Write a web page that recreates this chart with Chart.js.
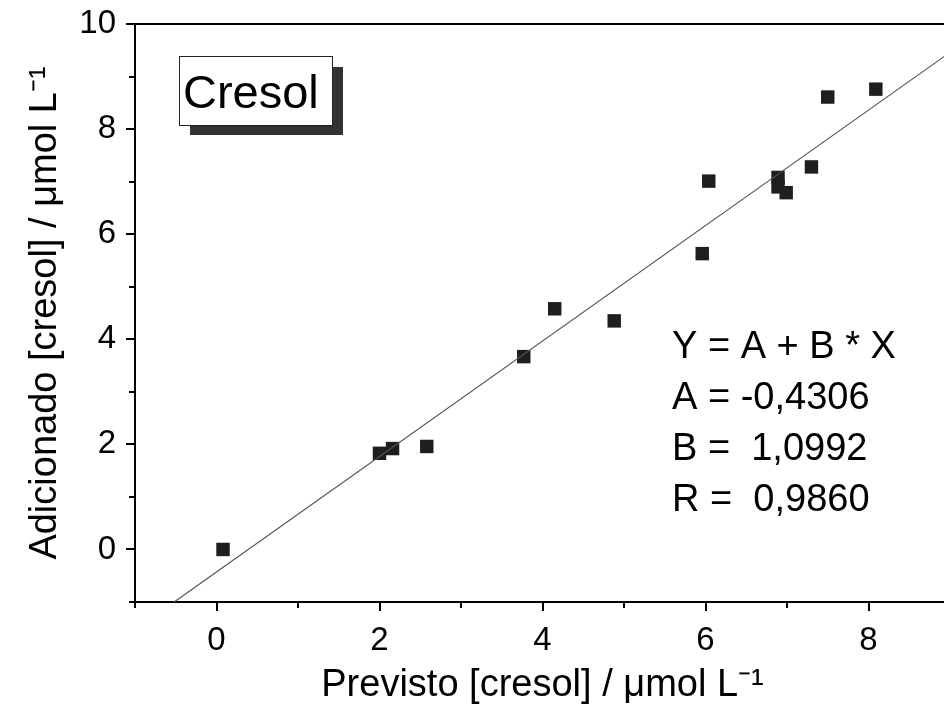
<!DOCTYPE html>
<html>
<head>
<meta charset="utf-8">
<script src="https://cdn.jsdelivr.net/npm/chart.js@4.4.0/dist/chart.umd.min.js"></script>
<style>
  html, body { margin: 0; padding: 0; background: #fff; overflow: hidden; }
  #wrap { width: 960px; height: 710px; }
</style>
</head>
<body>
<div id="wrap"><canvas id="chart" width="960" height="710"></canvas></div>
<script>
// Data
const previsto = [0.08, 2.0, 2.16, 2.58, 3.77, 4.15, 4.88, 5.96, 6.04, 6.89, 6.89, 6.99, 7.3, 7.5, 8.09];
const adicionado = [0.0, 1.83, 1.92, 1.96, 3.67, 4.58, 4.35, 5.63, 7.01, 7.08, 6.9, 6.79, 7.28, 8.61, 8.76];

// Fitted line ends (as drawn)
const fitX = [-0.52, 9];
const fitY = [-1.0, 9.46];

// Axis ticks
const xMajor = [0, 2, 4, 6, 8];
const xMinor = [-1, 1, 3, 5, 7, 9];
const yMajor = [0, 2, 4, 6, 8, 10];
const yMinor = [-1, 1, 3, 5, 7, 9];

const fitText = ['Y = A + B * X', 'A = -0,4306', 'B =  1,0992', 'R =  0,9860'];
const FONT = '"Liberation Sans", Arial, sans-serif';

// Custom drawing: ticks, top border, legend box, fit text
const decorPlugin = {
  id: 'decor',
  afterDraw(chart) {
    const ctx = chart.ctx;
    const area = chart.chartArea;
    const xs = chart.scales.x, ys = chart.scales.y;
    ctx.save();
    ctx.strokeStyle = '#000';
    ctx.lineWidth = 2;
    // top border
    ctx.beginPath();
    ctx.moveTo(area.left - 1, area.top);
    ctx.lineTo(area.right, area.top);
    ctx.stroke();
    // ticks (outward)
    const tick = (v, len, isX) => {
      ctx.beginPath();
      if (isX) {
        const px = Math.round(xs.getPixelForValue(v));
        ctx.moveTo(px, area.bottom);
        ctx.lineTo(px, area.bottom + len);
      } else {
        const py = Math.round(ys.getPixelForValue(v));
        ctx.moveTo(area.left, py);
        ctx.lineTo(area.left - len, py);
      }
      ctx.stroke();
    };
    xMajor.forEach(v => tick(v, 9, true));
    xMinor.forEach(v => tick(v, 6, true));
    yMajor.forEach(v => tick(v, 9, false));
    yMinor.forEach(v => tick(v, 6, false));

    // Cresol label box with shadow
    ctx.fillStyle = '#333';
    ctx.fillRect(190, 67, 153, 68);
    ctx.fillStyle = '#fff';
    ctx.fillRect(179, 56, 154, 70);
    ctx.lineWidth = 1;
    ctx.strokeStyle = '#222';
    ctx.strokeRect(179.5, 56.5, 153, 69);
    ctx.fillStyle = '#000';
    ctx.font = '47px ' + FONT;
    ctx.textBaseline = 'alphabetic';
    ctx.fillText('Cresol', 183, 108);

    // regression text
    ctx.font = '38px ' + FONT;
    fitText.forEach((t, i) => ctx.fillText(t, 672, 358 + i * 51));
    ctx.restore();
  }
};

new Chart(document.getElementById('chart'), {
  type: 'scatter',
  data: {
    datasets: [
      {
        label: 'fit',
        type: 'line',
        data: fitX.map((x, i) => ({ x: x, y: fitY[i] })),
        borderColor: '#555',
        borderWidth: 1.2,
        pointRadius: 0,
        fill: false
      },
      {
        label: 'Cresol',
        data: previsto.map((x, i) => ({ x: x, y: adicionado[i] })),
        pointStyle: 'rect',
        pointRadius: 9.5,
        backgroundColor: '#1e1e1e',
        borderColor: '#1e1e1e',
        borderWidth: 0
      }
    ]
  },
  options: {
    responsive: false,
    animation: false,
    layout: { padding: { top: 24, right: 10, left: 0, bottom: 0 } },
    plugins: {
      legend: { display: false },
      tooltip: { enabled: false }
    },
    scales: {
      x: {
        type: 'linear',
        min: -1,
        max: 9,
        afterBuildTicks: s => { s.ticks = xMajor.map(v => ({ value: v })); },
        afterFit: s => { s.height = 108; s.paddingLeft = 0; s.paddingRight = 0; },
        grid: { display: false, drawTicks: false },
        border: { display: true, color: '#000', width: 2 },
        ticks: { color: '#000', padding: 19, font: { family: FONT, size: 33 } },
        title: {
          display: true,
          text: 'Previsto [cresol] / \u03bcmol L\u207b\u00b9',
          color: '#000',
          font: { family: FONT, size: 38 },
          padding: { top: 0, bottom: 2 }
        }
      },
      y: {
        type: 'linear',
        min: -1,
        max: 10,
        afterBuildTicks: s => { s.ticks = yMajor.map(v => ({ value: v })); },
        afterFit: s => { s.width = 135; s.paddingTop = 0; s.paddingBottom = 0; },
        grid: { display: false, drawTicks: false },
        border: { display: true, color: '#000', width: 2 },
        ticks: { color: '#000', padding: 19, font: { family: FONT, size: 33 } },
        title: {
          display: true,
          text: 'Adicionado [cresol] / \u03bcmol L\u207b\u00b9',
          color: '#000',
          font: { family: FONT, size: 38 },
          padding: { top: 23, bottom: 0 }
        }
      }
    }
  },
  plugins: [decorPlugin]
});
</script>
</body>
</html>
